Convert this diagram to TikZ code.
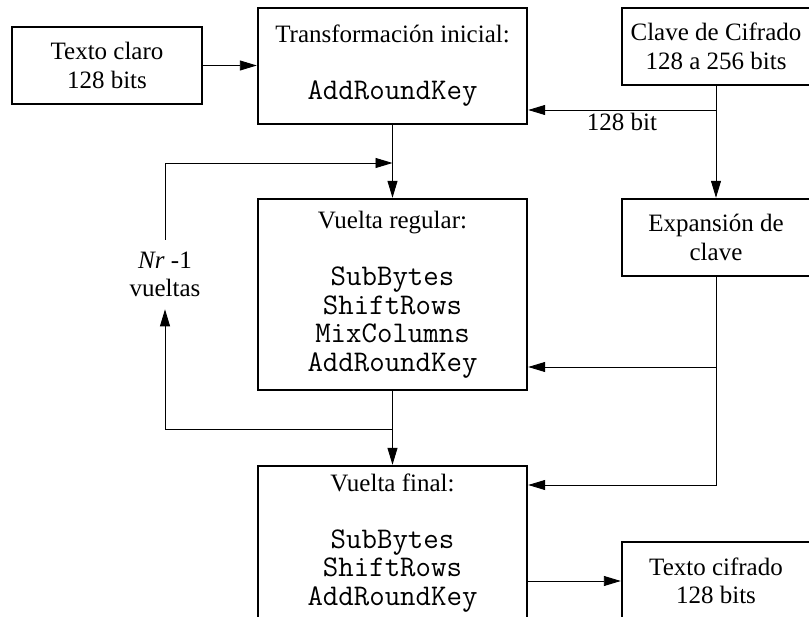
\documentclass[tikz,border=0pt]{standalone}
\usepackage{fontspec}
\setmainfont{Liberation Serif}
\usetikzlibrary{arrows.meta}
\newcommand{\codigo}[1]{{\fontsize{30}{28.5}\selectfont\ttfamily #1}}

\begin{document}
\begin{tikzpicture}[x=1pt,y=-1pt,
    caja/.style={draw,line width=2.4pt,inner sep=0pt,align=center,font=\fontsize{25}{28.5}\selectfont},
    flecha/.style={-{Triangle[length=17pt,width=10pt]},line width=0.9pt},
    etiqueta/.style={align=center,font=\fontsize{25}{28.5}\selectfont}]
    \useasboundingbox (0,0) rectangle (809,617);
    % cajas
    \node[caja,minimum width=190pt,minimum height=77pt] (claro) at (107,65.5) {Texto claro\\128 bits};
    \node[caja,minimum width=269pt,minimum height=116pt] (inicial) at (392.5,66) {Transformación inicial:\\[\baselineskip]\codigo{AddRoundKey}};
    \node[caja,minimum width=188pt,minimum height=77pt] (clave) at (716,46.5) {Clave de Cifrado\\128 a 256 bits};
    \node[caja,minimum width=188pt,minimum height=77pt] (expansion) at (716,237.5) {Expansión de\\clave};
    \node[caja,minimum width=269pt,minimum height=191pt] (regular) at (392.5,294.5) {Vuelta regular:\\[\baselineskip]\codigo{SubBytes}\\\codigo{ShiftRows}\\\codigo{MixColumns}\\\codigo{AddRoundKey}};
    \node[caja,minimum width=269pt,minimum height=154pt] (final) at (392.5,543) {Vuelta final:\\[\baselineskip]\codigo{SubBytes}\\\codigo{ShiftRows}\\\codigo{AddRoundKey}};
    \node[caja,minimum width=188pt,minimum height=78pt] (cifrado) at (716,581) {Texto cifrado\\128 bits};
    % etiquetas
    \node[etiqueta,inner sep=12pt] (vueltas) at (165,274.5) {\textit{Nr} -1\\vueltas};
    \node[etiqueta] (bits) at (622,121.5) {128 bit};
    % puntos de ramificacion
    \coordinate (ramal) at (716,110);
    \coordinate (ramal2) at (716,367);
    \coordinate (ramal3) at (716,485);
    \coordinate (lazoin) at (392.5,163);
    \coordinate (lazoout) at (392.5,429);
    % flechas
    \draw[flecha] (claro.east) -- (claro.east -| inicial.west);
    \draw[flecha] (ramal) -- (inicial.east |- ramal);
    \draw[flecha] (clave.south) -- (expansion.north);
    \draw[flecha] (inicial.south) -- (regular.north);
    \draw[flecha] (regular.south) -- (final.north);
    \draw[flecha] (lazoout) -| (vueltas.south);
    \draw[flecha] (vueltas.north) |- (lazoin);
    \draw[flecha] (expansion.south) |- (final.east |- ramal3);
    \draw[flecha] (ramal2) -- (regular.east |- ramal2);
    \draw[flecha] (cifrado.west -| final.east) -- (cifrado.west);
\end{tikzpicture}
\end{document}
